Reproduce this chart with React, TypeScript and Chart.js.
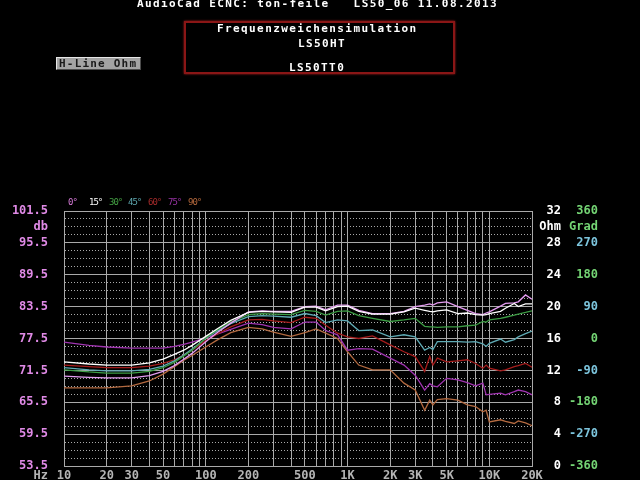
import { useEffect, useRef } from 'react';
import { Chart, registerables } from 'chart.js';

Chart.register(...registerables);

// ---------- data ----------
const freqs = [10, 15, 20, 30, 40, 50, 60, 70, 80, 100, 120, 150, 200, 250, 300, 400, 500, 600, 700, 850, 1000, 1200, 1500, 2000, 2500, 3000, 3500, 3800, 4000, 4300, 5000, 6000, 7000, 8000, 9000, 9500, 10000, 12000, 13000, 15000, 16000, 18000, 20000];

const deg0 = [70.4, 70.2, 70.1, 70.1, 70.5, 71.3, 72.4, 73.6, 74.7, 76.9, 78.6, 80.4, 82.5,
  82.7, 82.6, 82.6, 83.5, 83.6, 82.9, 83.8, 83.8, 82.8, 82.2, 82.2, 82.6, 83.5,
  83.8, 84.0, 83.8, 84.2, 84.4, 83.5, 82.8, 82.2, 82.0, 82.3, 82.5, 83.6, 84.1, 84.2, 84.4, 85.7, 84.9];
const deg15 = [73.1, 72.7, 72.5, 72.5, 72.9, 73.6, 74.5, 75.3, 76.2, 77.9, 79.3, 80.9, 82.4,
  82.6, 82.5, 82.4, 83.4, 83.4, 82.7, 83.5, 83.6, 82.6, 82.1, 82.1, 82.5, 83.2,
  82.8, 82.6, 82.5, 82.7, 82.9, 82.2, 82.3, 82.0, 81.9, 82.0, 82.2, 82.6, 83.2, 84.1, 83.5, 84.0, 84.0];
const deg30 = [71.6, 71.2, 71.0, 71.0, 71.3, 72.0, 73.0, 74.2, 75.3, 77.6, 79.1, 80.6, 82.0,
  82.2, 82.1, 82.0, 82.8, 82.6, 81.9, 82.6, 82.7, 81.8, 81.3, 80.7, 81.0, 81.3,
  79.8, 79.7, 79.7, 79.6, 79.7, 79.7, 79.9, 80.0, 80.7, 80.6, 81.0, 81.3, 81.5, 81.9, 82.1, 82.4, 82.7];
const deg45 = [72.0, 71.6, 71.4, 71.4, 71.7, 72.3, 73.3, 74.4, 75.5, 77.5, 78.9, 80.3, 81.6,
  81.8, 81.7, 81.5, 82.2, 81.8, 80.5, 81.0, 80.8, 79.0, 79.1, 77.8, 78.2, 77.8,
  75.3, 75.8, 75.4, 76.9, 76.9, 76.9, 76.8, 76.9, 76.5, 76.0, 76.6, 77.4, 76.8, 77.3, 77.8, 78.4, 78.9];
const deg60 = [72.5, 72.2, 72.0, 72.0, 72.3, 72.8, 73.5, 74.4, 75.3, 77.1, 78.3, 79.7, 81.0,
  81.1, 80.8, 80.5, 81.5, 81.3, 80.0, 78.5, 77.8, 77.5, 78.0, 76.3, 75.0, 74.1,
  71.3, 74.1, 72.5, 73.8, 73.1, 73.3, 73.5, 72.8, 71.9, 72.5, 71.9, 71.4, 71.6, 72.2, 72.4, 72.8, 72.1];
const deg75 = [76.8, 76.2, 75.9, 75.7, 75.7, 75.7, 76.0, 76.4, 76.8, 77.6, 78.3, 79.2, 80.4,
  80.1, 79.6, 79.3, 80.6, 80.6, 79.0, 78.2, 75.3, 75.6, 75.5, 73.8, 72.5, 70.6,
  67.8, 69.0, 68.6, 68.4, 70.0, 69.7, 69.2, 68.6, 69.1, 66.9, 67.0, 67.2, 66.9, 67.5, 67.8, 67.5, 66.9];
const deg90 = [68.2, 68.2, 68.2, 68.6, 69.5, 70.8, 72.2, 73.4, 74.3, 75.9, 77.2, 78.6, 79.6,
  79.3, 78.7, 77.9, 78.6, 79.3, 78.5, 77.5, 75.0, 72.5, 71.6, 71.6, 69.1, 67.8,
  64.0, 65.9, 65.0, 66.0, 66.2, 65.9, 65.0, 64.7, 63.7, 64.0, 61.8, 62.2, 61.9, 61.5, 62.0, 61.6, 61.1];

const seriesNames = ['0°', '15°', '30°', '45°', '60°', '75°', '90°'];
const seriesValues = [deg0, deg15, deg30, deg45, deg60, deg75, deg90];
const seriesColors = ['#e49cf0', '#ffffff', '#3c9c44', '#5eaab4', '#a41c1c', '#a034b0', '#b46a40'];
const legendColors = ['#d77ad8', '#ffffff', '#43a043', '#5fa9b0', '#a52a2a', '#9a32a6', '#b4683c'];
const seriesOrder = [1, 0, 2, 3, 4, 5, 6];

const xGridTicks = [10, 20, 30, 40, 50, 60, 70, 80, 90, 100, 200, 300, 400, 500, 600, 700, 800, 900,
  1000, 2000, 3000, 4000, 5000, 6000, 7000, 8000, 9000, 10000, 20000];
const xLabelValues = [10, 20, 30, 50, 100, 200, 500, 1000, 2000, 3000, 5000, 10000, 20000];
const xLabelTexts = ['10', '20', '30', '50', '100', '200', '500', '1K', '2K', '3K', '5K', '10K', '20K'];

const yMajorTicks = [101.5, 95.5, 89.5, 83.5, 77.5, 71.5, 65.5, 59.5, 53.5];
const yMajorLabels = ['101.5', '95.5', '89.5', '83.5', '77.5', '71.5', '65.5', '59.5', '53.5'];
const ohmLabels = ['32', '28', '24', '20', '16', '12', '8', '4', '0'];
const gradLabels = ['360', '270', '180', '90', '0', '-90', '-180', '-270', '-360'];
const unitTick = 98.5;

// ---------- styles ----------
const GRID = '#a9a9a9';
const PINK_TXT = '#e08ae6';
const GREY_TXT = '#b4b4b4';
const GRAD_GREEN = '#74d474';
const GRAD_CYAN = '#7cc4dc';
const TICK_FONT = { family: '"DejaVu Sans Mono", monospace', size: 12, weight: 'bold' as const };

const yAllTicks: number[] = (() => {
  const out: number[] = [];
  const asc = [...yMajorTicks].sort((a, b) => a - b);
  for (let i = 0; i < asc.length; i++) {
    out.push(asc[i]);
    if (i < asc.length - 1) {
      const step = (asc[i + 1] - asc[i]) / 4;
      for (let k = 1; k < 4; k++) out.push(+(asc[i] + step * k).toFixed(2));
    }
  }
  return out;
})();

const isMajorY = (v: number) => yMajorTicks.some((m) => Math.abs(m - v) < 1e-6);

const overlayPlugin = {
  id: 'overlayText',
  afterDraw(chart: any) {
    const ctx = chart.ctx as CanvasRenderingContext2D;
    const ys = chart.scales.y;
    const area = chart.chartArea;
    ctx.save();
    ctx.font = 'bold 12px "DejaVu Sans Mono", monospace';
    ctx.textBaseline = 'middle';
    ctx.textAlign = 'right';
    const ohmX = area.right + 29;
    const gradX = area.right + 66;
    yMajorTicks.forEach((v, i) => {
      const py = ys.getPixelForValue(v);
      ctx.fillStyle = '#ffffff';
      ctx.fillText(ohmLabels[i], ohmX, py);
      ctx.fillStyle = i % 2 === 0 ? GRAD_GREEN : GRAD_CYAN;
      ctx.fillText(gradLabels[i], gradX, py);
    });
    const uy = ys.getPixelForValue(unitTick);
    ctx.fillStyle = '#ffffff';
    ctx.fillText('Ohm', ohmX, uy);
    ctx.fillStyle = GRAD_GREEN;
    ctx.fillText('Grad', gradX, uy);
    // Hz label
    ctx.fillStyle = GREY_TXT;
    ctx.fillText('Hz', area.left - 16, area.bottom + 10);
    // legend row
    ctx.textAlign = 'left';
    ctx.font = '9px "DejaVu Sans Mono", monospace';
    (ctx as any).letterSpacing = '-1px';
    const offs = [4, 25, 45, 64, 84, 104, 124];
    seriesNames.forEach((n, i) => {
      ctx.fillStyle = legendColors[i];
      ctx.fillText(n, area.left + offs[i], area.top - 8);
    });
    ctx.restore();
  },
};

const txt: any = {
  position: 'absolute',
  fontFamily: '"DejaVu Sans Mono", monospace',
  fontWeight: 'bold',
  fontSize: 11,
  lineHeight: '11px',
  letterSpacing: '1.4px',
  color: '#ffffff',
  whiteSpace: 'pre',
};

export default function App() {
  const ref = useRef<HTMLCanvasElement>(null);

  useEffect(() => {
    if (!ref.current) return;
    const datasets = seriesValues.map((vals, si) => ({
      label: seriesNames[si],
      data: freqs.map((f, i) => ({ x: f, y: vals[i] })),
      borderColor: seriesColors[si],
      backgroundColor: seriesColors[si],
      borderWidth: 1.3,
      pointRadius: 0,
      tension: 0,
      fill: false,
      order: seriesOrder[si],
    }));
    const chart = new Chart(ref.current, {
      type: 'line',
      data: { datasets },
      plugins: [overlayPlugin],
      options: {
        responsive: false,
        animation: false,
        layout: { padding: { top: 211, right: 108, left: 0, bottom: 0 } },
        plugins: {
          legend: { display: false },
          title: { display: false },
          tooltip: { enabled: false },
        },
        scales: {
          x: {
            type: 'logarithmic',
            min: 10,
            max: 20000,
            afterBuildTicks: (s: any) => {
              s.ticks = xGridTicks.map((v) => ({ value: v }));
            },
            afterFit: (s: any) => {
              s.height = 14;
              s.paddingLeft = 0;
              s.paddingRight = 0;
            },
            grid: { color: GRID, lineWidth: 1, drawTicks: false },
            border: { display: true, color: GRID, width: 1 },
            ticks: {
              autoSkip: false,
              maxRotation: 0,
              minRotation: 0,
              padding: 3,
              color: GREY_TXT,
              font: TICK_FONT,
              callback: (v: any) => {
                const idx = xLabelValues.findIndex((x) => Math.abs(x - Number(v)) < 1e-6);
                return idx >= 0 ? xLabelTexts[idx] : '';
              },
            },
          },
          y: {
            type: 'linear',
            min: 53.5,
            max: 101.5,
            afterBuildTicks: (s: any) => {
              s.ticks = yAllTicks.map((v) => ({ value: v }));
            },
            afterFit: (s: any) => {
              s.width = 64;
              s.paddingTop = 0;
              s.paddingBottom = 0;
            },
            grid: { color: GRID, lineWidth: 1, drawTicks: false },
            border: {
              display: true,
              color: GRID,
              width: 1,
              dash: (c: any) => (c && c.tick && !isMajorY(c.tick.value) ? [1, 2] : []),
            },
            ticks: {
              autoSkip: false,
              padding: 16,
              color: PINK_TXT,
              font: TICK_FONT,
              callback: (v: any) => {
                const n = Number(v);
                const idx = yMajorTicks.findIndex((m) => Math.abs(m - n) < 1e-6);
                if (idx >= 0) return yMajorLabels[idx];
                if (Math.abs(n - unitTick) < 1e-6) return 'db';
                return '';
              },
            },
          },
        },
      } as any,
    });
    return () => chart.destroy();
  }, []);

  return (
    <div style={{ position: 'fixed', left: 0, top: 0, width: 640, height: 480, background: '#000', overflow: 'hidden' }}>
      <canvas ref={ref} width={640} height={480} style={{ position: 'absolute', left: 0, top: 0, width: 640, height: 480 }} />
      <div style={{ ...txt, left: 137, top: -2 }}>{'AudioCad ECNC: ton-feile   LS50_06 11.08.2013'}</div>
      <div
        style={{
          position: 'absolute',
          left: 184,
          top: 21,
          width: 267,
          height: 49,
          border: '2px solid #8a1616',
          boxShadow: '0 0 2px #b02020',
        }}
      />
      <div style={{ ...txt, left: 217, top: 23 }}>Frequenzweichensimulation</div>
      <div style={{ ...txt, left: 298, top: 38 }}>LS50HT</div>
      <div style={{ ...txt, left: 289, top: 62 }}>LS50TT0</div>
      <div
        style={{
          position: 'absolute',
          left: 56,
          top: 57,
          width: 85,
          height: 13,
          boxSizing: 'border-box',
          background: '#a3a3a3',
          borderTop: '1px solid #e6e6e6',
          borderLeft: '1px solid #e6e6e6',
          borderBottom: '1px solid #4c4c4c',
          borderRight: '1px solid #4c4c4c',
        }}
      >
        <div style={{ ...txt, color: '#1a1a1a', left: 2, top: 0, letterSpacing: '1.2px' }}>H-Line Ohm</div>
      </div>
    </div>
  );
}
